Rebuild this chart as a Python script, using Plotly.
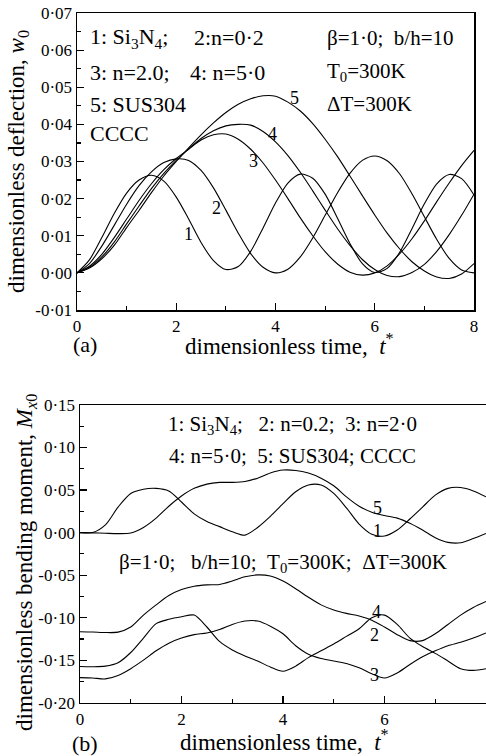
import plotly.graph_objects as go

# ---------------- data ----------------
t_star = [0.0, 0.25, 0.5, 0.75, 1.0, 1.25, 1.5, 1.75, 2.0, 2.25, 2.5, 2.75, 3.0,
          3.25, 3.5, 3.75, 4.0, 4.25, 4.5, 4.75, 5.0, 5.25, 5.5, 5.75, 6.0,
          6.25, 6.5, 6.75, 7.0, 7.25, 7.5, 7.75, 8.0]

# (a) dimensionless deflection w0
w_1 = [0.0, 0.0035, 0.0095, 0.0160, 0.0215, 0.0250, 0.0263, 0.0247, 0.0204, 0.0145, 0.0082, 0.0033, 0.0009,
       0.0017, 0.0058, 0.0121, 0.0188, 0.0242, 0.0266, 0.0255, 0.0212, 0.0147, 0.0079, 0.0025, 0.0001,
       0.0012, 0.0055, 0.0119, 0.0186, 0.0240, 0.0265, 0.0254, 0.0210]
w_2 = [0.0, 0.0025, 0.0072, 0.0128, 0.0185, 0.0235, 0.0272, 0.0297, 0.0307, 0.0303, 0.0276, 0.0229, 0.0169,
       0.0107, 0.0052, 0.0015, 0.0000, 0.0010, 0.0043, 0.0094, 0.0155, 0.0216, 0.0268, 0.0303, 0.0315,
       0.0302, 0.0267, 0.0213, 0.0151, 0.0090, 0.0039, 0.0008, 0.0000]
w_3 = [0.0, 0.0018, 0.0050, 0.0095, 0.0145, 0.0195, 0.0240, 0.0278, 0.0308, 0.0333, 0.0358, 0.0372, 0.0374,
       0.0360, 0.0333, 0.0296, 0.0250, 0.0200, 0.0148, 0.0100, 0.0057, 0.0024, 0.0002, -0.0006, 0.0000,
       0.0019, 0.0051, 0.0092, 0.0140, 0.0192, 0.0242, 0.0289, 0.0330]
w_4 = [0.0, 0.0015, 0.0043, 0.0083, 0.0132, 0.0180, 0.0227, 0.0268, 0.0303, 0.0334, 0.0362, 0.0383, 0.0396,
       0.0400, 0.0398, 0.0381, 0.0353, 0.0316, 0.0271, 0.0221, 0.0169, 0.0119, 0.0074, 0.0036, 0.0009,
       -0.0007, -0.0010, 0.0001, 0.0023, 0.0058, 0.0103, 0.0155, 0.0212]
w_5 = [0.0, 0.0013, 0.0038, 0.0074, 0.0122, 0.0168, 0.0216, 0.0261, 0.0300, 0.0337, 0.0372, 0.0404, 0.0432,
       0.0454, 0.0469, 0.0477, 0.0476, 0.0460, 0.0436, 0.0402, 0.0360, 0.0313, 0.0261, 0.0208, 0.0156,
       0.0107, 0.0065, 0.0030, 0.0005, -0.0011, -0.0015, -0.0003, 0.0025]

# (b) dimensionless bending moment Mx0
m_1 = [0.0, 0.0, 0.009, 0.030, 0.046, 0.051, 0.052, 0.049, 0.036, 0.022, 0.013, 0.007, 0.001,
       -0.003, 0.006, 0.019, 0.034, 0.048, 0.056, 0.056, 0.046, 0.029, 0.010, -0.002, -0.004,
       0.003, 0.016, 0.030, 0.044, 0.052, 0.053, 0.049, 0.042]
m_5 = [0.0, -0.0003, -0.0008, -0.0012, -0.0005, 0.006, 0.017, 0.031, 0.043, 0.052, 0.057, 0.059, 0.059,
       0.060, 0.064, 0.070, 0.0735, 0.073, 0.070, 0.064, 0.055, 0.042, 0.031, 0.024, 0.020,
       0.017, 0.011, 0.003, -0.006, -0.0115, -0.012, -0.007, -0.001]
m_4 = [-0.1165, -0.1168, -0.1175, -0.117, -0.111, -0.097, -0.085, -0.074, -0.067, -0.063, -0.0615, -0.061, -0.057,
       -0.052, -0.0497, -0.051, -0.057, -0.066, -0.076, -0.085, -0.091, -0.095, -0.098, -0.103, -0.111,
       -0.120, -0.127, -0.127, -0.119, -0.108, -0.097, -0.088, -0.081]
m_2 = [-0.1575, -0.1577, -0.157, -0.153, -0.141, -0.124, -0.107, -0.102, -0.099, -0.097, -0.111, -0.128, -0.138,
       -0.145, -0.151, -0.158, -0.163, -0.157, -0.147, -0.139, -0.131, -0.122, -0.113, -0.100, -0.097,
       -0.108, -0.124, -0.134, -0.142, -0.151, -0.160, -0.162, -0.160]
m_3 = [-0.1705, -0.171, -0.172, -0.168, -0.160, -0.150, -0.139, -0.130, -0.124, -0.120, -0.118, -0.114, -0.108,
       -0.104, -0.104, -0.110, -0.119, -0.133, -0.143, -0.148, -0.151, -0.154, -0.159, -0.166, -0.171,
       -0.165, -0.155, -0.146, -0.139, -0.133, -0.129, -0.124, -0.118]

x_tick_vals = [0, 2, 4, 6, 8]
x_tick_text = ["0", "2", "4", "6", "8"]
ya_tick_vals = [-0.01, 0.0, 0.01, 0.02, 0.03, 0.04, 0.05, 0.06, 0.07]
ya_tick_text = ["-0·01", "0·00", "0·01", "0·02", "0·03", "0·04", "0·05", "0·06", "0·07"]
yb_tick_vals = [-0.20, -0.15, -0.10, -0.05, 0.0, 0.05, 0.10, 0.15]
yb_tick_text = ["-0·20", "-0·15", "-0·10", "-0·05", "0·00", "0·05", "0·10", "0·15"]

labels_a = ["1", "2", "3", "4", "5"]
labels_b = ["1", "2", "3", "4", "5"]

# ---------------- figure ----------------
W, H = 486, 756
FONT = "Liberation Serif"

def px(x):
    return x / W

def py(y):
    return 1 - y / H

fig = go.Figure()
line_style = dict(color="black", width=1.1, shape="spline", smoothing=0.8)
for w in [w_1, w_2, w_3, w_4, w_5]:
    fig.add_trace(go.Scatter(x=t_star, y=w, mode="lines", line=line_style,
                             xaxis="x", yaxis="y", hoverinfo="skip"))
for m in [m_1, m_2, m_3, m_4, m_5]:
    fig.add_trace(go.Scatter(x=t_star, y=m, mode="lines", line=line_style,
                             xaxis="x2", yaxis="y2", hoverinfo="skip"))

axis_common = dict(showgrid=False, zeroline=False, showline=True, linecolor="black",
                   linewidth=1.5, mirror=True, ticks="inside", ticklen=7, tickwidth=1.2,
                   tickcolor="black", tickmode="array", automargin=False,
                   tickfont=dict(family=FONT, size=17, color="black"))

fig.update_layout(
    width=W, height=H,
    margin=dict(l=0, r=0, t=0, b=0, autoexpand=False),
    paper_bgcolor="white", plot_bgcolor="white",
    showlegend=False,
    font=dict(family=FONT, color="black"),
    xaxis=dict(domain=[px(77), px(474)], range=[0, 8], anchor="y",
               tickvals=x_tick_vals, ticktext=x_tick_text,
               minor=dict(ticks="inside", ticklen=4, dtick=1, tick0=0, tickcolor="black"),
               **axis_common),
    yaxis=dict(domain=[py(310), py(13)], range=[-0.01, 0.07], anchor="x",
               tickvals=ya_tick_vals, ticktext=ya_tick_text,
               minor=dict(ticks="inside", ticklen=4, dtick=0.005, tick0=0, tickcolor="black"),
               **axis_common),
    xaxis2=dict(domain=[px(80), 1.0], range=[0, 8], anchor="y2",
                tickvals=x_tick_vals, ticktext=x_tick_text,
                minor=dict(ticks="inside", ticklen=4, dtick=1, tick0=0, tickcolor="black"),
                **axis_common),
    yaxis2=dict(domain=[py(702.7), py(405)], range=[-0.20, 0.15], anchor="x2",
                tickvals=yb_tick_vals, ticktext=yb_tick_text,
                minor=dict(ticks="inside", ticklen=4, dtick=0.025, tick0=0, tickcolor="black"),
                **axis_common),
)

NB = "\u00a0"
ann = []

def text_at(x, y, s, size=22, xanchor="left", angle=0, family=FONT):
    ann.append(dict(x=px(x), y=py(y), xref="paper", yref="paper", text=s,
                    showarrow=False, xanchor=xanchor, yanchor="middle", textangle=angle,
                    font=dict(family=family, size=size, color="black")))

# (a) texts
text_at(88, 38, "1: Si<sub>3</sub>N<sub>4</sub>;")
text_at(192, 38, "2:n=0·2")
text_at(88, 72, "3: n=2.0;")
text_at(188, 72, "4: n=5·0")
text_at(88, 104, "5: SUS304")
text_at(88, 134, "CCCC")
text_at(325, 38, "β=1·0;" + NB * 2 + "b/h=10", size=21)
text_at(325, 72, "T<sub>0</sub>=300K", size=21)
text_at(325, 104, "ΔT=300K", size=21)
text_at(85, 344, "(a)", xanchor="center")
text_at(289, 344, "dimensionless time," + NB * 2 + "<i>t</i><sup>*</sup>", size=23, xanchor="center")
text_at(18, 162, "dimensionless deflection, <i>w</i><sub>0</sub>", size=23, xanchor="center", angle=-90)

# (b) texts
text_at(292, 425, "1: Si<sub>3</sub>N<sub>4</sub>;" + NB * 3 + "2: n=0.2;" + NB * 2 + "3: n=2·0", size=21, xanchor="center")
text_at(292, 456, "4: n=5·0;" + NB * 2 + "5: SUS304; CCCC", size=21, xanchor="center")
text_at(283, 563, "β=1·0;" + NB * 3 + "b/h=10;" + NB * 2 + "T<sub>0</sub>=300K;" + NB * 2 + "ΔT=300K",
        size=21, xanchor="center")
text_at(85, 743, "(b)", xanchor="center")
text_at(284, 740, "dimensionless time," + NB * 2 + "<i>t</i><sup>*</sup>", size=23, xanchor="center")
text_at(26, 563, "dimensionless bending moment, <i>M</i><sub><i>x</i>0</sub>", size=23,
        xanchor="center", angle=-90)

# curve labels (data coordinates)
pos_a = [(2.24, 0.0106), (2.82, 0.0176), (3.55, 0.0302), (3.93, 0.0373), (4.39, 0.0470)]
for lab, (xx, yy) in zip(labels_a, pos_a):
    ann.append(dict(x=xx, y=yy, xref="x", yref="y", text=lab, showarrow=False,
                    font=dict(family=FONT, size=18, color="black")))
pos_b = [(5.87, 0.002), (5.81, -0.120), (5.81, -0.167), (5.85, -0.0932), (5.87, 0.0292)]
for lab, (xx, yy) in zip(labels_b, pos_b):
    ann.append(dict(x=xx, y=yy, xref="x2", yref="y2", text=lab, showarrow=False,
                    font=dict(family=FONT, size=18, color="black")))

fig.update_layout(annotations=ann)
fig.write_html("out.html", config={"displayModeBar": False, "staticPlot": True},
               post_script="document.body.style.margin='0px';")
